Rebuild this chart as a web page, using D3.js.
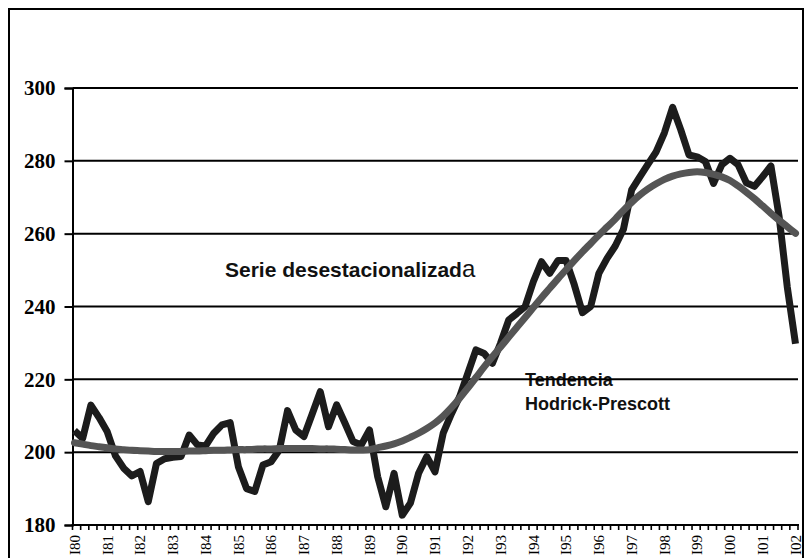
<!DOCTYPE html>
<html><head><meta charset="utf-8">
<script src="https://cdn.jsdelivr.net/npm/d3@7"></script>
<style>body{margin:0;background:#fff}svg{display:block}</style>
</head><body>
<svg id="c" width="812" height="558"></svg>
<script>
// ---- data ----
const yearLabels = ["80","81","82","83","84","85","86","87","88","89","90","91","92","93","94","95","96","97","98","99","00","01","02"];
const quarterNames = ["I","II","III","IV"];
const tickLabels = yearLabels.map(y => "I" + y);
const categories = [];
yearLabels.forEach((yr, k) => {
  quarterNames.forEach(q => { if (k < yearLabels.length - 1 || q === "I") categories.push(q + yr); });
});
const yTicks = [180, 200, 220, 240, 260, 280, 300];

const serieDesest = [
  205.9, 203.8, 212.9, 209.5, 205.6, 199.0, 195.6, 193.5, 194.7, 186.4,
  196.9, 198.2, 198.6, 198.8, 204.7, 202.0, 201.7, 205.2, 207.5, 208.1,
  196.0, 190.0, 189.2, 196.5, 197.4, 200.6, 211.4, 206.1, 204.3, 210.4,
  216.6, 207.0, 213.0, 208.0, 202.9, 202.0, 206.1, 193.3, 185.0, 194.2,
  182.7, 186.0, 194.2, 198.8, 194.6, 205.2, 210.5, 215.2, 221.6, 228.1,
  227.1, 224.4, 229.9, 236.3, 238.1, 240.0, 246.8, 252.3, 249.1, 252.6,
  252.6, 246.0, 238.3, 240.0, 249.1, 253.2, 256.6, 261.2, 272.0, 275.6,
  279.1, 282.5, 287.7, 294.7, 288.5, 281.6, 281.1, 279.8, 273.8, 278.9,
  280.7, 278.9, 274.0, 273.0, 275.7, 278.6, 264.7, 245.3, 229.8
];
const tendenciaHP = [
  202.6, 202.2, 201.8, 201.5, 201.2, 200.9, 200.7, 200.5, 200.4, 200.3,
  200.2, 200.2, 200.2, 200.2, 200.3, 200.3, 200.4, 200.5, 200.5, 200.6,
  200.7, 200.7, 200.8, 200.9, 200.9, 201.0, 201.0, 201.0, 201.0, 201.0,
  200.9, 200.9, 200.8, 200.7, 200.6, 200.6, 200.7, 201.2, 201.7, 202.3,
  203.1, 204.1, 205.2, 206.5, 208.0, 209.9, 212.2, 214.8, 217.6, 220.5,
  223.4, 226.2, 228.9, 231.6, 234.3, 237.0, 239.7, 242.4, 245.0, 247.6,
  250.1, 252.6, 255.0, 257.3, 259.6, 261.8, 264.0, 266.4, 268.6, 270.6,
  272.3, 273.7, 274.9, 275.8, 276.4, 276.8, 277.0, 276.8, 276.3, 275.6,
  274.6, 273.1, 271.4, 269.6, 267.6, 265.6, 263.7, 261.9, 260.1
];

// ---- chart ----
const svg = d3.select("#c");
const pL = 72.5, pR = 798, pT = 88, pB = 525;
const x = d3.scalePoint().domain(categories).range([74.5, 795.5]);
const xb = d3.scaleBand().domain(categories).range([pL, pR]);
const y = d3.scaleLinear().domain([180, 300]).range([pB, pT]);

// outer border
svg.append("rect").attr("x", 9).attr("y", 9).attr("width", 794).attr("height", 600)
  .attr("fill", "none").attr("stroke", "#000").attr("stroke-width", 2);

// annotations (under the gridlines, like the reference)
const t1 = svg.append("text").attr("x", 225).attr("y", 277)
  .attr("font-family", "'Liberation Sans', Arial, sans-serif").attr("font-weight", "bold")
  .attr("font-size", 21).attr("fill", "#111");
t1.append("tspan").text("Serie desestacionalizad");
t1.append("tspan").attr("font-size", 24).attr("font-weight", "normal").text("a");

svg.append("text").attr("x", 525).attr("y", 386)
  .attr("font-family", "'Liberation Sans', Arial, sans-serif").attr("font-weight", "bold")
  .attr("font-size", 18).attr("fill", "#111").text("Tendencia");
svg.append("text").attr("x", 525).attr("y", 410)
  .attr("font-family", "'Liberation Sans', Arial, sans-serif").attr("font-weight", "bold")
  .attr("font-size", 18).attr("fill", "#111").text("Hodrick-Prescott");

// gridlines
svg.append("g").selectAll("line").data(yTicks).join("line")
  .attr("x1", pL).attr("x2", pR)
  .attr("y1", d => y(d)).attr("y2", d => y(d))
  .attr("stroke", "#000").attr("stroke-width", 2);

// y axis
const yAxis = svg.append("g").attr("transform", `translate(${pL},0)`)
  .call(d3.axisLeft(y).tickValues(yTicks).tickSize(8).tickPadding(9).tickFormat(d3.format("d")));
yAxis.select(".domain").attr("stroke", "#000").attr("stroke-width", 2);
yAxis.selectAll(".tick line").attr("stroke", "#000").attr("stroke-width", 2);
yAxis.selectAll(".tick text").attr("font-family", "'Liberation Serif', 'Times New Roman', serif")
  .attr("font-weight", "bold").attr("font-size", 21).attr("fill", "#000");

// x axis ticks at category boundaries
const bounds = categories.map(c => xb(c)).concat([pR]);
svg.append("g").selectAll("line").data(bounds).join("line")
  .attr("x1", d => d).attr("x2", d => d).attr("y1", pB).attr("y2", pB + 5)
  .attr("stroke", "#000").attr("stroke-width", 1.6);
svg.append("line").attr("x1", pL - 1).attr("x2", pR + 1).attr("y1", pB).attr("y2", pB)
  .attr("stroke", "#000").attr("stroke-width", 2);

// x labels
svg.append("g").selectAll("text").data(tickLabels).join("text")
  .attr("transform", d => `translate(${x(d)},535) rotate(-90)`)
  .attr("text-anchor", "end").attr("dy", "0.35em")
  .attr("font-family", "'Liberation Serif', 'Times New Roman', serif")
  .attr("font-size", 15).attr("fill", "#000")
  .text(d => d);

// series
const line = d3.line().x((d, i) => x(categories[i])).y(d => y(d));
svg.append("path").datum(serieDesest).attr("d", line)
  .attr("fill", "none").attr("stroke", "#1c1c1c").attr("stroke-width", 7)
  .attr("stroke-linejoin", "round");
const smooth = d3.line().x((d, i) => x(categories[i])).y(d => y(d)).curve(d3.curveCatmullRom);
svg.append("path").datum(tendenciaHP).attr("d", smooth)
  .attr("fill", "none").attr("stroke", "#555555").attr("stroke-width", 7)
  .attr("stroke-linecap", "round");
</script>
</body></html>
